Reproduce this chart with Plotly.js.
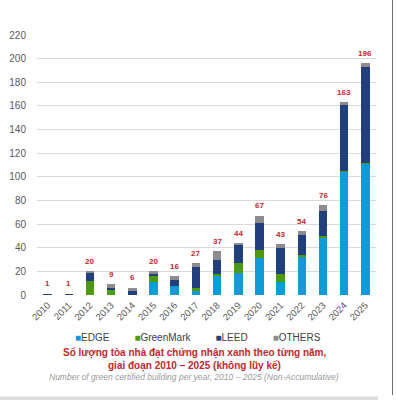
<!DOCTYPE html>
<html><head><meta charset="utf-8">
<script src="https://cdn.plot.ly/plotly-3.0.1.min.js"></script>
<style>html,body{margin:0;padding:0;background:#fff;}#chart{width:396px;height:400px;}</style>
</head><body><div id="chart"></div>
<script>
const years = ['2010','2011','2012','2013','2014','2015','2016','2017','2018','2019','2020','2021','2022','2023','2024','2025'];
const edge      = [0,0,0,0,0,11,8,3,16,19,31,11,32,48,104,111];
const greenMark = [0,0,12,4,0,5,0,3,2,8,7,7,2,2,1,1];
const leed      = [1,1,7,2,3,2,5,18,12,15,23,22,17,21,56,81];
const others    = [0,0,1,3,3,2,3,3,7,2,6,3,3,5,2,3];
const seriesNames = ['EDGE','GreenMark','LEED','OTHERS'];
const seriesColors = ['#0f9ad8','#4e9a0e','#213f7c','#8c8c8c'];
const yTicks = [0,20,40,60,80,100,120,140,160,180,200,220];
const titleLine1 = 'Số lượng tòa nhà đạt chứng nhận xanh theo từng năm,';
const titleLine2 = 'giai đoạn 2010 – 2025 (không lũy kế)';
const subTitle = 'Number of green certified building per year, 2010 – 2025 (Non-Accumulative)';

const FONT = 'Arial, "Liberation Sans", sans-serif';
const seriesVals = [edge, greenMark, leed, others];
const totals = years.map((_, i) => seriesVals.reduce((s, a) => s + a[i], 0));

const traces = seriesVals.map((vals, k) => ({
  type: 'bar', x: years, y: vals, name: seriesNames[k],
  marker: {color: seriesColors[k], line: {width: 0}},
  showlegend: false, hoverinfo: 'skip'
}));

const legendHtml = seriesNames.map((n, k) =>
  '<span style="color:' + seriesColors[k] + '">■</span>' + n).join('         ');

const L = 37, R = 20, T = 35, B = 105, W = 396, H = 400;
const pw = W - L - R, ph = H - T - B;
const px2x = p => (p - L) / pw;
const px2y = p => (H - B - p) / ph;

const totalAnns = years.map((yr, i) => ({
  x: i, y: totals[i], xref: 'x', yref: 'y', text: '<b>' + totals[i] + '</b>', showarrow: false,
  yshift: 10, yanchor: 'middle', xanchor: 'center',
  font: {family: FONT, size: 8, color: '#c0282d'}
}));

const layout = {
  width: W, height: H,
  margin: {l: L, r: R, t: T, b: B, pad: 0},
  paper_bgcolor: '#fff', plot_bgcolor: '#fff',
  barmode: 'stack', bargap: 0.6,
  font: {family: FONT, color: '#595959'},
  xaxis: {
    type: 'category', range: [-0.5, years.length - 0.5], autorange: false,
    tickangle: -45, tickfont: {size: 9.5, color: '#595959'},
    showgrid: false, zeroline: false, showline: false, ticks: '', ticklabelstandoff: 2
  },
  yaxis: {
    range: [0, 220], tickvals: yTicks, ticktext: yTicks.map(String),
    tickfont: {size: 10, color: '#595959'}, gridcolor: '#d9d9d9', gridwidth: 1,
    zeroline: false, showline: false, ticks: '', ticklabelstandoff: 10
  },
  annotations: totalAnns.concat([
    {xref: 'paper', yref: 'paper', x: px2x(198), y: px2y(337), text: legendHtml, showarrow: false,
     font: {family: FONT, size: 10, color: '#404040'}, xanchor: 'center', yanchor: 'middle'},
    {xref: 'paper', yref: 'paper', x: px2x(194), y: px2y(353), text: '<b>' + titleLine1 + '</b>', showarrow: false,
     font: {family: FONT, size: 10, color: '#c0282d'}, xanchor: 'center', yanchor: 'middle'},
    {xref: 'paper', yref: 'paper', x: px2x(194), y: px2y(365.5), text: '<b>' + titleLine2 + '</b>', showarrow: false,
     font: {family: FONT, size: 10, color: '#c0282d'}, xanchor: 'center', yanchor: 'middle'},
    {xref: 'paper', yref: 'paper', x: px2x(194), y: px2y(376.5), text: '<i>' + subTitle + '</i>', showarrow: false,
     font: {family: FONT, size: 8.5, color: '#9a9a9a'}, xanchor: 'center', yanchor: 'middle'}
  ]),
  shapes: [
    {type: 'line', xref: 'paper', yref: 'paper', x0: px2x(392.5), x1: px2x(392.5), y0: px2y(0), y1: px2y(395),
     line: {color: '#6e6e6e', width: 1}},
    {type: 'rect', xref: 'paper', yref: 'paper', x0: px2x(0), x1: px2x(378), y0: px2y(396.5), y1: px2y(400),
     fillcolor: '#dcdcdc', line: {width: 0}}
  ]
};

Plotly.newPlot('chart', traces, layout, {displayModeBar: false, staticPlot: true});
</script></body></html>
